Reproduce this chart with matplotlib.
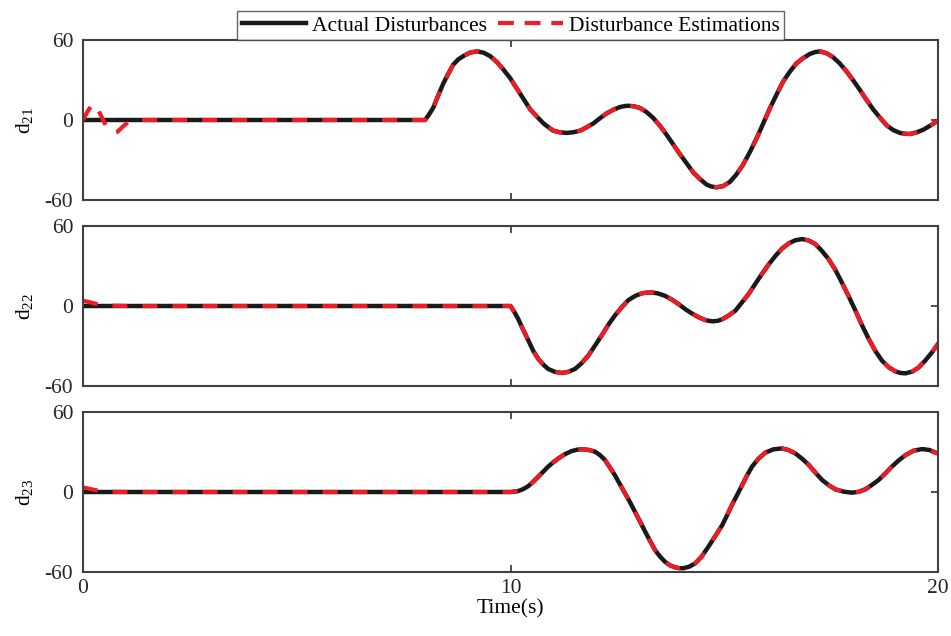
import numpy as np
import matplotlib
matplotlib.use('Agg')
import matplotlib.pyplot as plt

plt.rcParams['font.family'] = ['Liberation Serif', 'DejaVu Serif']
plt.rcParams['mathtext.fontset'] = 'custom'
plt.rcParams['mathtext.rm'] = 'Liberation Serif'
plt.rcParams['font.size'] = 15.5
plt.rcParams['axes.unicode_minus'] = False

# Values (time in s, disturbance)
t_d21 = [0, 8.0, 8.08, 8.19, 8.31, 8.43, 8.55, 8.66, 8.78, 8.90, 9.05, 9.21, 9.37, 9.52, 9.68,
         9.83, 9.99, 10.14, 10.30, 10.46, 10.62, 10.77, 10.89, 11.0, 11.15, 11.31, 11.47,
         11.63, 11.78, 11.94, 12.10, 12.25, 12.41, 12.56, 12.66, 12.76, 12.90, 13.03, 13.18,
         13.34, 13.50, 13.65, 13.80, 13.95, 14.12, 14.28, 14.44, 14.59, 14.70, 14.82, 14.97,
         15.13, 15.28, 15.44, 15.60, 15.76, 15.92, 16.07, 16.23, 16.38, 16.54, 16.69, 16.85,
         17.0, 17.12, 17.24, 17.40, 17.55, 17.70, 17.86, 18.01, 18.17, 18.33, 18.49, 18.65,
         18.80, 18.95, 19.11, 19.23, 19.35, 19.50, 19.66, 19.83, 20.0]
d21 = [0, 0, 3.5, 9, 18.5, 27.5, 35, 41.5, 45.5, 48, 50.5, 51.5, 50.5, 48, 43.5,
       38, 31.5, 24, 16, 8, 2.5, -2.5, -5.5, -8, -9.2, -9.7, -9.2,
       -8, -5.5, -2.5, 1.5, 5, 7.8, 9.7, 10.4, 10.7, 10.2, 9, 6,
       1.5, -4.5, -11, -18, -25, -32.5, -39.5, -44.5, -48.5, -49.9, -50.5, -49.6,
       -46.5, -41, -33.5, -24, -13.5, -2, 9, 19.5, 29, 36.5, 42.5, 46.5,
       49.5, 50.9, 51.5, 50, 47, 42.5, 36.5, 30, 22.7, 15, 7.7, 1.5,
       -4, -7.5, -9.7, -10.3, -10.5, -9.3, -7.2, -4, -0.5]

t_d22 = [0, 10.0, 10.09, 10.18, 10.30, 10.42, 10.53, 10.65, 10.77, 10.88, 11.04, 11.2, 11.35,
         11.51, 11.66, 11.82, 11.97, 12.13, 12.28, 12.44, 12.60, 12.76, 12.92, 13.07, 13.18,
         13.3, 13.45, 13.61, 13.77, 13.93, 14.08, 14.24, 14.40, 14.55, 14.65, 14.74, 14.85,
         14.95, 15.10, 15.26, 15.41, 15.57, 15.72, 15.88, 16.04, 16.2, 16.35, 16.51, 16.66,
         16.82, 16.97, 17.13, 17.28, 17.44, 17.60, 17.75, 17.91, 18.07, 18.22, 18.38, 18.53,
         18.69, 18.85, 19.0, 19.12, 19.24, 19.40, 19.55, 19.70, 19.86, 20.0]
d22 = [0, 0, -4.5, -9.7, -18, -26, -33.5, -39.7, -44, -47.2, -49.4, -50.2, -49.4,
       -47.2, -43, -37.2, -30, -22.2, -14.5, -7.2, -1, 4.5, 7.6, 9.5, 10, 10.2, 9.4, 7.7, 4.9,
       1.5, -2.2, -5.5, -8.4, -10.5, -11.2, -11.5, -11.1, -10, -7.2, -3.5, 2.5, 9, 16.3, 24,
       31.2, 37.7, 43, 47, 49.3, 50.2, 49.2, 46.5, 41.5, 35.2, 27, 17.7, 7.3, -3.5,
       -14.3, -24.7, -33.5, -41, -46, -49, -50.2, -50.5, -49.2, -46, -41, -34.7, -28.5]

t_d23 = [0, 10.0, 10.18, 10.30, 10.42, 10.53, 10.65, 10.77, 10.88, 11.0, 11.12, 11.27, 11.43,
         11.57, 11.7, 11.84, 11.98, 12.10, 12.21, 12.32, 12.44, 12.56, 12.68, 12.80, 12.91,
         13.03, 13.15, 13.27, 13.38, 13.50, 13.61, 13.73, 13.85, 13.94, 14.04, 14.18, 14.32,
         14.47, 14.63, 14.79, 14.95, 15.07, 15.18, 15.30, 15.42, 15.53, 15.65, 15.80, 15.96,
         16.15, 16.35, 16.50, 16.66, 16.82, 16.98, 17.13, 17.29, 17.45, 17.6, 17.8, 17.99,
         18.15, 18.3, 18.45, 18.61, 18.77, 18.92, 19.08, 19.24, 19.43, 19.63, 19.80, 19.94,
         20.0]
d23 = [0, 0, 0.7, 2.2, 4.5, 7.7, 11.5, 15.4, 19, 22.3, 25.2, 28.3, 30.7,
       31.8, 32, 31.5, 30.2, 27.5, 24, 18.7, 12.7, 5.8, -1, -7.9, -14.7,
       -22.2, -29.7, -37, -43.5, -48.5, -52.2, -55, -56.5, -57.1, -57.2, -56, -53.5,
       -48.5, -41, -33, -25, -17.2, -9.7, -2.3, 5.2, 12.3, 19, 25, 29.5,
       32, 32.7, 31.5, 29, 25, 20.2, 14.6, 9, 5, 2, 0.2, -0.5,
       0.2, 2, 5.2, 9, 14, 19, 23.7, 27.7, 31, 32.2, 31.5, 29.5,
       29]

# Initial transient of the estimations (afterwards they follow the actual curves)
t_est21 = [0, 0.1, 0.2, 0.28, 0.38, 0.47, 0.54, 0.68, 0.8, 0.93, 1.06, 1.3]
est21 = [0, 6, 11, 12.5, 6, 0, -4.5, -10, -9, -5, -1.5, 0]
t_est22 = [0, 0.2, 0.35, 0.6, 1.0]
est22 = [4, 2.5, 1.2, 0.3, 0]
t_est23 = [0, 0.2, 0.35, 0.6, 1.0]
est23 = [3.5, 2, 1, 0.2, 0]

y_labels = [r'd$_{21}$', r'd$_{22}$', r'd$_{23}$']


def estimation(t_tr, v_tr, t_act, v_act):
    t_act = np.array(t_act)
    v_act = np.array(v_act)
    keep = t_act > t_tr[-1]
    return np.concatenate([t_tr, t_act[keep]]), np.concatenate([v_tr, v_act[keep]])


actual = [(t_d21, d21), (t_d22, d22), (t_d23, d23)]
transients = [(t_est21, est21), (t_est22, est22), (t_est23, est23)]

fig = plt.figure(figsize=(9.51, 6.36), dpi=100)
left, width = 83 / 951, 855 / 951
tops = [40, 226, 412]
h = 160 / 636
spine_color = '#404040'

for i in range(3):
    ax = fig.add_axes([left, 1 - (tops[i] + 160) / 636, width, h])
    t, v = actual[i]
    te, ve = estimation(*transients[i], t, v)
    l1, = ax.plot(t, v, color='#1a1a1a', lw=3.2, solid_joinstyle='round',
                  label='Actual Disturbances')
    l2, = ax.plot(te, ve, color='#ee1c25', lw=3.0, linestyle=(0, (3.6, 3.6)),
                  label='Disturbance Estimations')
    ax.set_xlim(0, 20)
    ax.set_ylim(-60, 60)
    ax.set_yticks([-60, 0, 60])
    ax.set_xticks([0, 10, 20])
    ax.tick_params(direction='in', top=True, right=True, length=5, width=1.3,
                   colors=spine_color, labelcolor='#262626', pad=7)
    ax.tick_params(axis='x', pad=5)
    for s in ax.spines.values():
        s.set_color(spine_color)
        s.set_linewidth(1.5)
    ax.set_ylabel(y_labels[i], labelpad=6)
    if i < 2:
        ax.set_xticklabels([])
    else:
        ax.set_xlabel('Time(s)', labelpad=1)
    if i == 0:
        leg = ax.legend(handles=[l1, l2], ncol=2, loc='lower center',
                        bbox_to_anchor=(0.5, 1.0), frameon=True, fancybox=False,
                        handlelength=3.0, handletextpad=0.28, columnspacing=0.5,
                        borderpad=0.2, borderaxespad=0.0, fontsize=15.5)
        leg.get_frame().set_edgecolor(spine_color)
        leg.get_frame().set_linewidth(1.0)
        leg.get_lines()[1].set_linestyle((0, (3.8, 2.6)))

fig.savefig('out.png', dpi=100)
